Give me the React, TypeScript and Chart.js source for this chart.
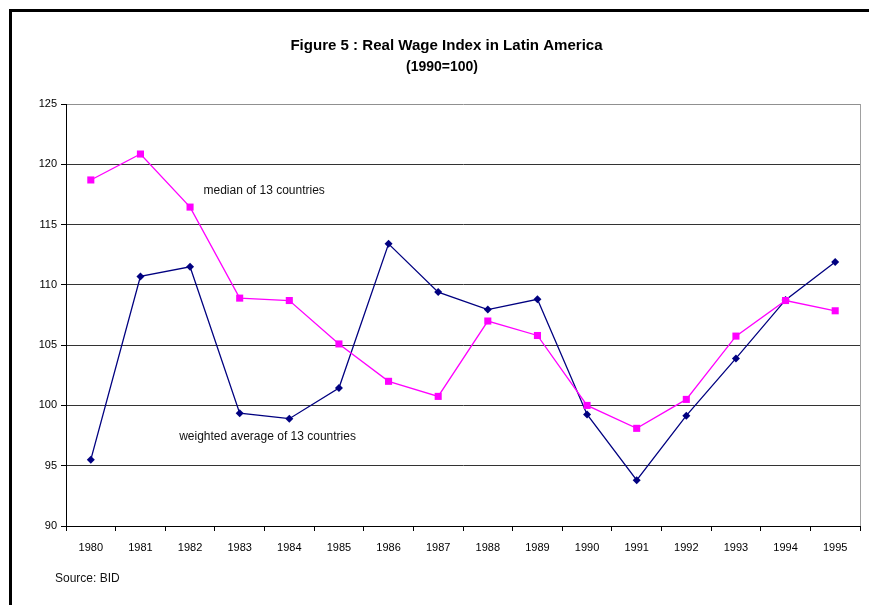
import React, { useEffect, useRef } from "react";
import { Chart, registerables } from "chart.js";

Chart.register(...registerables);

const years = ["1980","1981","1982","1983","1984","1985","1986","1987","1988","1989","1990","1991","1992","1993","1994","1995"];
const median13 = [118.7, 120.85, 116.45, 108.9, 108.7, 105.1, 102.0, 100.75, 107.0, 105.8, 100.0, 98.1, 100.5, 105.75, 108.7, 107.85];
const weighted13 = [95.5, 110.7, 111.5, 99.35, 98.9, 101.45, 113.4, 109.4, 107.95, 108.8, 99.25, 93.8, 99.15, 103.9, 108.75, 111.9];
const yTicks = [90, 95, 100, 105, 110, 115, 120, 125];
const titleLines = ["Figure 5 : Real Wage Index in Latin America", "(1990=100)"];
const medianLabel = "median of 13 countries";
const weightedLabel = "weighted average of 13 countries";
const sourceLabel = "Source: BID";

const FONT = "Arial, 'Liberation Sans', sans-serif";

const textPlugin = {
  id: "textPlugin",
  afterDraw(chart: any) {
    const ctx = chart.ctx;
    const xs = chart.scales.x;
    const ys = chart.scales.y;
    const area = chart.chartArea;
    ctx.save();
    // right plot border
    ctx.strokeStyle = "#a0a0a0";
    ctx.lineWidth = 1;
    ctx.beginPath();
    ctx.moveTo(Math.round(area.right) + 0.5, area.top);
    ctx.lineTo(Math.round(area.right) + 0.5, area.bottom);
    ctx.stroke();
    // title
    ctx.fillStyle = "#000";
    ctx.textAlign = "center";
    ctx.textBaseline = "middle";
    ctx.font = `bold 14px ${FONT}`;
    ctx.save();
    ctx.translate(446.5, 46);
    ctx.scale(1.075, 1);
    ctx.fillText(titleLines[0], 0, 0);
    ctx.restore();
    ctx.fillText(titleLines[1], 442, 67);
    // annotations placed in data coordinates
    const step = xs.getPixelForValue(1) - xs.getPixelForValue(0);
    ctx.font = `12px ${FONT}`;
    ctx.textAlign = "left";
    ctx.fillStyle = "#111";
    ctx.fillText(medianLabel, xs.getPixelForValue(0) + 2.27 * step, ys.getPixelForValue(117.85));
    ctx.fillText(weightedLabel, xs.getPixelForValue(0) + 1.78 * step, ys.getPixelForValue(97.4));
    // source
    ctx.fillText(sourceLabel, 55, 579);
    ctx.restore();
  },
};

export default function App() {
  const ref = useRef<HTMLCanvasElement>(null);
  useEffect(() => {
    if (!ref.current) return;
    const chart = new Chart(ref.current, {
      type: "line",
      data: {
        labels: years,
        datasets: [
          {
            label: medianLabel,
            data: median13,
            borderColor: "#ff00ff",
            backgroundColor: "#ff00ff",
            borderWidth: 1.3,
            pointStyle: "rect",
            pointRadius: 5,
            pointBorderWidth: 0,
            tension: 0,
          },
          {
            label: weightedLabel,
            data: weighted13,
            borderColor: "#000080",
            backgroundColor: "#000080",
            borderWidth: 1.3,
            pointStyle: "rectRot",
            pointRadius: 4,
            pointBorderWidth: 0,
            tension: 0,
          },
        ],
      },
      options: {
        responsive: false,
        animation: false,
        layout: { padding: { left: 0, top: 104, right: 9, bottom: 0 } },
        plugins: { legend: { display: false }, tooltip: { enabled: false }, title: { display: false } },
        scales: {
          x: {
            type: "category",
            offset: true,
            grid: { offset: true, drawOnChartArea: false, drawTicks: true, tickLength: 5, color: "#000" },
            border: { color: "#000" },
            ticks: { color: "#000", font: { family: FONT, size: 11 }, padding: 10, maxRotation: 0, autoSkip: false },
            afterFit: (s: any) => { s.height = 79; },
          },
          y: {
            min: yTicks[0],
            max: yTicks[yTicks.length - 1],
            afterBuildTicks: (s: any) => { s.ticks = yTicks.map((v) => ({ value: v })); },
            grid: {
              color: (c: any) => (c.tick && c.tick.value === 125 ? "#909090" : "#333"),
              tickColor: "#000",
              tickLength: 5,
              lineWidth: 1,
            },
            border: { color: "#000" },
            ticks: { color: "#000", font: { family: FONT, size: 11 }, padding: 4 },
            afterFit: (s: any) => { s.width = 66; },
          },
        },
      },
      plugins: [textPlugin],
    });
    return () => chart.destroy();
  }, []);
  return (
    <div style={{ position: "fixed", left: 0, top: 0, width: 869, height: 605, background: "#fff", overflow: "hidden" }}>
      <div style={{ position: "absolute", left: 9, top: 9, width: 870, height: 610, borderTop: "3px solid #000", borderLeft: "3px solid #000", boxSizing: "border-box" }} />
      <canvas ref={ref} width={869} height={605} style={{ position: "absolute", left: 0, top: 0, width: 869, height: 605 }} />
    </div>
  );
}
